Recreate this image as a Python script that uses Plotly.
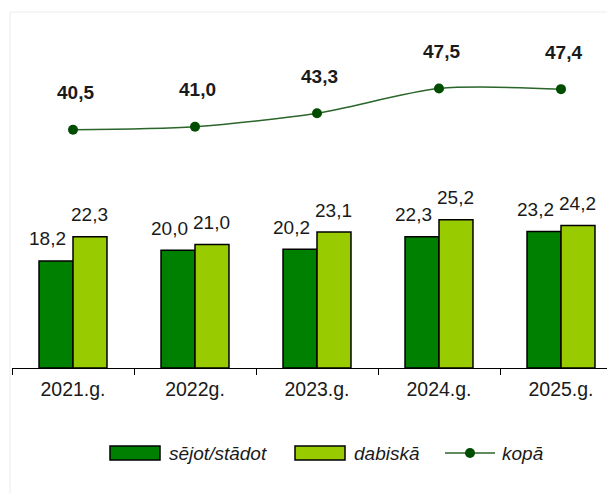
import plotly.graph_objects as go

years = ["2021.g.", "2022g.", "2023.g.", "2024.g.", "2025.g."]
sejot = [18.2, 20.0, 20.2, 22.3, 23.2]
dabiska = [22.3, 21.0, 23.1, 25.2, 24.2]
kopa = [40.5, 41.0, 43.3, 47.5, 47.4]
series_names = ["sējot/stādot", "dabiskā", "kopā"]

DARK = "#008000"
LIGHT = "#99cc00"
LINE = "#2a652a"
MARK = "#004d00"
FONT = "Liberation Sans, Arial, sans-serif"

OFF = 8  # page body margin in the browser
W, H = 615, 494
L, R, T, B = 12 - OFF, OFF, 15 - OFF, 494 - (368 - OFF)
PW = W - L - R
PH = H - T - B
CAT = 122.0  # category width in px
BARGAP = 0.443
BARW = CAT * (1 - BARGAP) / 2


def fmt(v):
    return f"{v:.1f}".replace(".", ",")


def px(x):
    # screen x -> paper
    return (x - OFF - L) / PW


def py(y):
    # screen y -> paper
    return (H - B - (y - OFF)) / PH


fig = go.Figure()
fig.add_trace(go.Bar(x=years, y=sejot, name=series_names[0], marker=dict(color=DARK, line=dict(color="#000", width=1.5)),
                     showlegend=False, hoverinfo="y"))
fig.add_trace(go.Bar(x=years, y=dabiska, name=series_names[1], marker=dict(color=LIGHT, line=dict(color="#000", width=1.5)),
                     showlegend=False, hoverinfo="y"))
fig.add_trace(go.Scatter(x=years, y=kopa, name=series_names[2], mode="lines+markers",
                         line=dict(color=LINE, width=1.5, shape="spline", smoothing=0.8),
                         marker=dict(color=MARK, size=10), showlegend=False, hoverinfo="y"))

ann = []
for i, yr in enumerate(years):
    ann.append(dict(x=yr, y=sejot[i], text=fmt(sejot[i]), showarrow=False, xshift=-BARW / 2 - 9, yshift=22,
                    yanchor="middle", font=dict(family=FONT, size=19, color="#1a1a1a")))
    ann.append(dict(x=yr, y=dabiska[i], text=fmt(dabiska[i]), showarrow=False, xshift=BARW / 2, yshift=22,
                    yanchor="middle", font=dict(family=FONT, size=19, color="#1a1a1a")))
    ann.append(dict(x=yr, y=kopa[i], text=f"<b>{fmt(kopa[i])}</b>", showarrow=False, xshift=2, yshift=37,
                    yanchor="middle", font=dict(family=FONT, size=19, color="#1a1a1a")))

# custom legend (screen pixel positions)
LY = 453
shapes = []
shapes.append(dict(type="rect", xref="paper", yref="paper", x0=px(110), x1=px(160), y0=py(460), y1=py(446),
                   fillcolor=DARK, line=dict(color="#000", width=1.5)))
shapes.append(dict(type="rect", xref="paper", yref="paper", x0=px(295), x1=px(345), y0=py(460), y1=py(446),
                   fillcolor=LIGHT, line=dict(color="#000", width=1.5)))
shapes.append(dict(type="line", xref="paper", yref="paper", x0=px(445), x1=px(495), y0=py(LY), y1=py(LY),
                   line=dict(color=LINE, width=1.5)))
shapes.append(dict(type="circle", xref="paper", yref="paper", x0=px(465), x1=px(475), y0=py(LY + 5), y1=py(LY - 5),
                   fillcolor=MARK, line=dict(color=MARK, width=0)))
# faint chart-area border
shapes.append(dict(type="line", xref="paper", yref="paper", x0=px(10), x1=px(623), y0=py(12), y1=py(12),
                   line=dict(color="#ececec", width=1)))
shapes.append(dict(type="line", xref="paper", yref="paper", x0=px(10), x1=px(10), y0=py(12), y1=py(502),
                   line=dict(color="#ececec", width=1)))

for xpos, name in zip([167, 352, 500], series_names):
    ann.append(dict(xref="paper", yref="paper", x=px(xpos), y=py(LY), text=f"<i>{name}</i>", showarrow=False,
                    xanchor="left", yanchor="middle", font=dict(family=FONT, size=19, color="#1a1a1a")))

fig.update_layout(
    width=W, height=H,
    margin=dict(l=L, r=R, t=T, b=B, pad=0),
    paper_bgcolor="white", plot_bgcolor="white",
    barmode="group", bargap=BARGAP, bargroupgap=0,
    showlegend=False,
    annotations=ann,
    shapes=shapes,
    xaxis=dict(type="category", range=[-0.5, -0.5 + PW / CAT], showline=True, linecolor="#000", linewidth=1,
               ticks="outside", tickson="boundaries", ticklen=6, tickcolor="#000", tickwidth=1,
               showgrid=False, zeroline=False, ticklabelstandoff=4,
               tickfont=dict(family=FONT, size=19.5, color="#1a1a1a")),
    yaxis=dict(range=[0, 60], visible=False, showgrid=False, zeroline=False),
)

fig.write_html("out.html")
